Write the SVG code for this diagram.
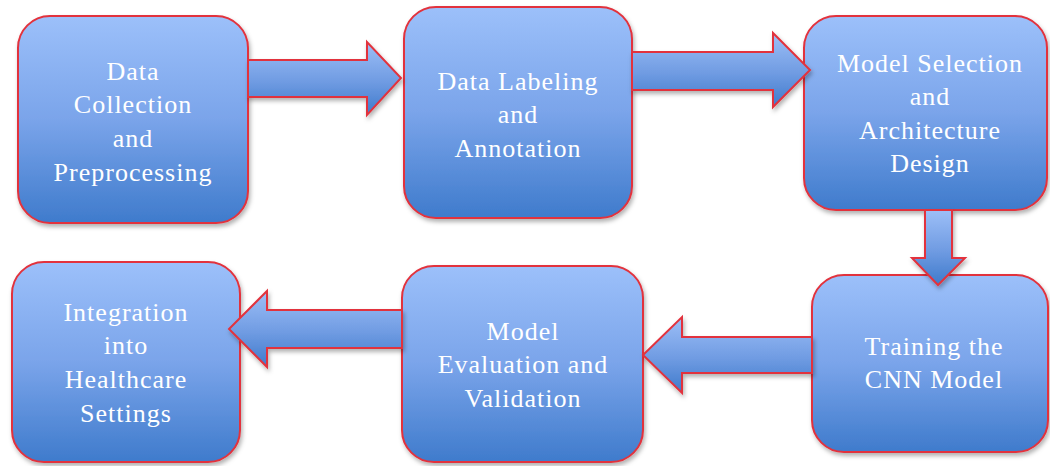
<svg xmlns="http://www.w3.org/2000/svg" width="1050" height="466" viewBox="0 0 1050 466">
  <defs>
    <linearGradient id="boxFill" x1="0" y1="0" x2="0" y2="1">
      <stop offset="0" stop-color="#9CC0FA"/>
      <stop offset="0.5" stop-color="#7AA4EA"/>
      <stop offset="1" stop-color="#3F7BCC"/>
    </linearGradient>
    <linearGradient id="arrowFill" x1="0" y1="0" x2="0" y2="1">
      <stop offset="0" stop-color="#9DBFF7"/>
      <stop offset="0.55" stop-color="#6F9BE2"/>
      <stop offset="1" stop-color="#3E7ACB"/>
    </linearGradient>
    <filter id="shadow" x="-10%" y="-10%" width="125%" height="130%">
      <feDropShadow dx="1.5" dy="3" stdDeviation="2.2" flood-color="#000" flood-opacity="0.3"/>
    </filter>
  </defs>
  <style>
    .box { fill: url(#boxFill); stroke: #E2333D; stroke-width: 2; filter: url(#shadow); }
    .arrow { fill: url(#arrowFill); stroke: #E2333D; stroke-width: 2; stroke-linejoin: miter; filter: url(#shadow); }
    .label { font-family: "Liberation Serif", "Times New Roman", serif; font-size: 26px; fill: #FFFFFF; text-anchor: middle; letter-spacing: 1px; }
  </style>
  <rect width="1050" height="466" fill="#FFFFFF"/>

  <g id="node-collection">
    <rect class="box" x="18" y="16" width="230" height="207" rx="32"/>
    <text class="label" x="133" y="80">Data</text>
    <text class="label" x="133" y="113">Collection</text>
    <text class="label" x="133" y="147">and</text>
    <text class="label" x="133" y="181">Preprocessing</text>
  </g>

  <g id="node-labeling">
    <rect class="box" x="404" y="7" width="228" height="211" rx="32"/>
    <text class="label" x="518" y="90">Data Labeling</text>
    <text class="label" x="518" y="123">and</text>
    <text class="label" x="518" y="157">Annotation</text>
  </g>

  <g id="node-selection">
    <rect class="box" x="804" y="16" width="243" height="194" rx="32"/>
    <text class="label" x="930" y="72">Model Selection</text>
    <text class="label" x="930" y="105">and</text>
    <text class="label" x="930" y="139">Architecture</text>
    <text class="label" x="930" y="172">Design</text>
  </g>

  <g id="node-training">
    <rect class="box" x="812" y="275" width="236" height="177" rx="32"/>
    <text class="label" x="934" y="355">Training the</text>
    <text class="label" x="934" y="388">CNN Model</text>
  </g>

  <g id="node-evaluation">
    <rect class="box" x="402" y="266" width="241" height="196" rx="32"/>
    <text class="label" x="523" y="340">Model</text>
    <text class="label" x="523" y="373">Evaluation and</text>
    <text class="label" x="523" y="407">Validation</text>
  </g>

  <g id="node-integration">
    <rect class="box" x="12" y="262" width="228" height="200" rx="32"/>
    <text class="label" x="126" y="321">Integration</text>
    <text class="label" x="126" y="354">into</text>
    <text class="label" x="126" y="388">Healthcare</text>
    <text class="label" x="126" y="422">Settings</text>
  </g>

  <g id="connectors">
    <!-- block arrows between stages -->
    <polygon class="arrow" points="248,60 367,60 367,42 401,78 367,115 367,97 248,97"/>
    <polygon class="arrow" points="632,52 773,52 773,33 810,70 773,107 773,90 632,90"/>
    <polygon class="arrow" points="925,210 952,210 952,258 965,258 938,285 912,258 925,258"/>
    <polygon class="arrow" points="812,337 682,337 682,317 643,355 682,393 682,373 812,373"/>
    <polygon class="arrow" points="402,310 267,310 267,291 229,329 267,367 267,348 402,348"/>
  </g>
</svg>
